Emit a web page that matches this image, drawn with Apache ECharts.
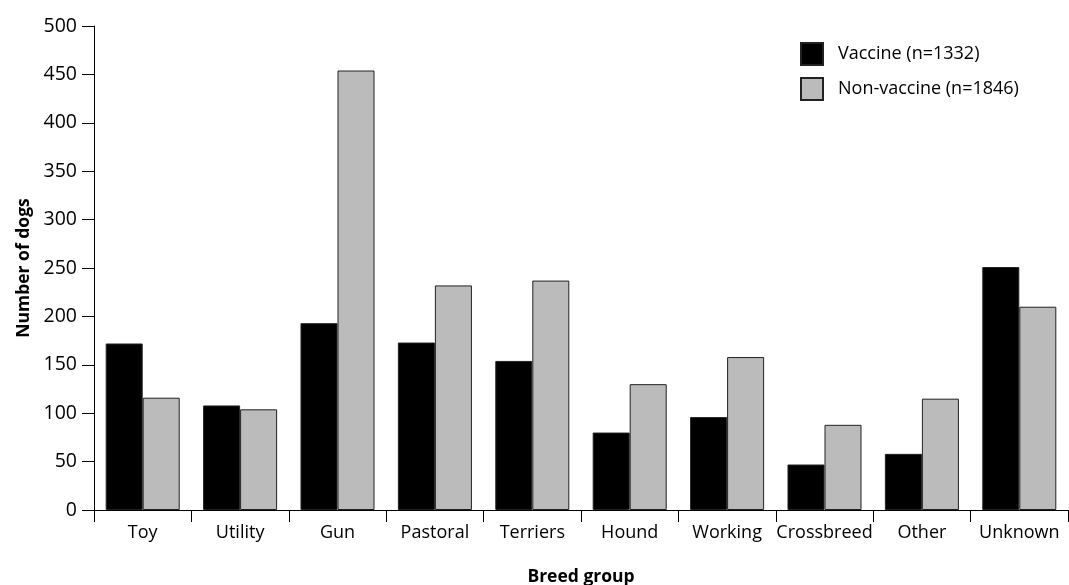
<!DOCTYPE html>
<html>
<head>
<meta charset="utf-8">
<script src="https://cdn.jsdelivr.net/npm/echarts@6/dist/echarts.min.js"></script>
<style>html,body{margin:0;padding:0;background:#fff}#c{width:1069px;height:585px}</style>
</head>
<body>
<div id="c"></div>
<script>
var categories = ['Toy','Utility','Gun','Pastoral','Terriers','Hound','Working','Crossbreed','Other','Unknown'];
var vaccine = [172,108,193,173,154,80,96,47,58,251];
var nonVaccine = [116,104,454,232,237,130,158,88,115,210];
var seriesNames = ['Vaccine (n=1332)','Non-vaccine (n=1846)'];
var FONT = '"Open Sans", "Noto Sans", sans-serif';
var chart = echarts.init(document.getElementById('c'));
chart.setOption({
  animation: false,
  textStyle: {fontFamily: FONT},
  grid: {left: 94, right: 1, top: 26, bottom: 75, containLabel: false, outerBoundsMode: 'none'},
  legend: {
    orient: 'vertical', left: 800, top: 42, padding: 0,
    itemWidth: 22, itemHeight: 22, itemGap: 11,
    icon: 'rect',
    textStyle: {fontFamily: FONT, fontSize: 18, color: '#000', padding: [0,0,0,10]},
    data: seriesNames
  },
  xAxis: {
    type: 'category', data: categories,
    name: 'Breed group', nameLocation: 'middle', nameGap: 58,
    nameTextStyle: {fontFamily: FONT, fontSize: 17.5, fontWeight: 'bold', color: '#000'},
    axisLine: {lineStyle: {color: '#000', width: 1}},
    axisTick: {show: true, length: 12, alignWithLabel: false, lineStyle: {color: '#000'}},
    axisLabel: {fontFamily: FONT, fontSize: 18, color: '#000', margin: 14, interval: 0}
  },
  yAxis: {
    type: 'value', min: 0, max: 500, interval: 50,
    name: 'Number of dogs', nameLocation: 'middle', nameGap: 61,
    nameTextStyle: {fontFamily: FONT, fontSize: 17.5, fontWeight: 'bold', color: '#000'},
    axisLine: {show: true, lineStyle: {color: '#000', width: 1}},
    axisTick: {show: true, length: 12, lineStyle: {color: '#000'}},
    axisLabel: {fontFamily: FONT, fontSize: 19.5, color: '#000', margin: 17},
    splitLine: {show: false}
  },
  series: [
    {name: seriesNames[0], type: 'bar', data: vaccine, barGap: '0%', barCategoryGap: '24%',
     itemStyle: {color: '#000', borderColor: '#222', borderWidth: 1}},
    {name: seriesNames[1], type: 'bar', data: nonVaccine, barGap: '0%', barCategoryGap: '24%',
     itemStyle: {color: '#bbbbbb', borderColor: '#222', borderWidth: 1}}
  ]
});
</script>
</body>
</html>
